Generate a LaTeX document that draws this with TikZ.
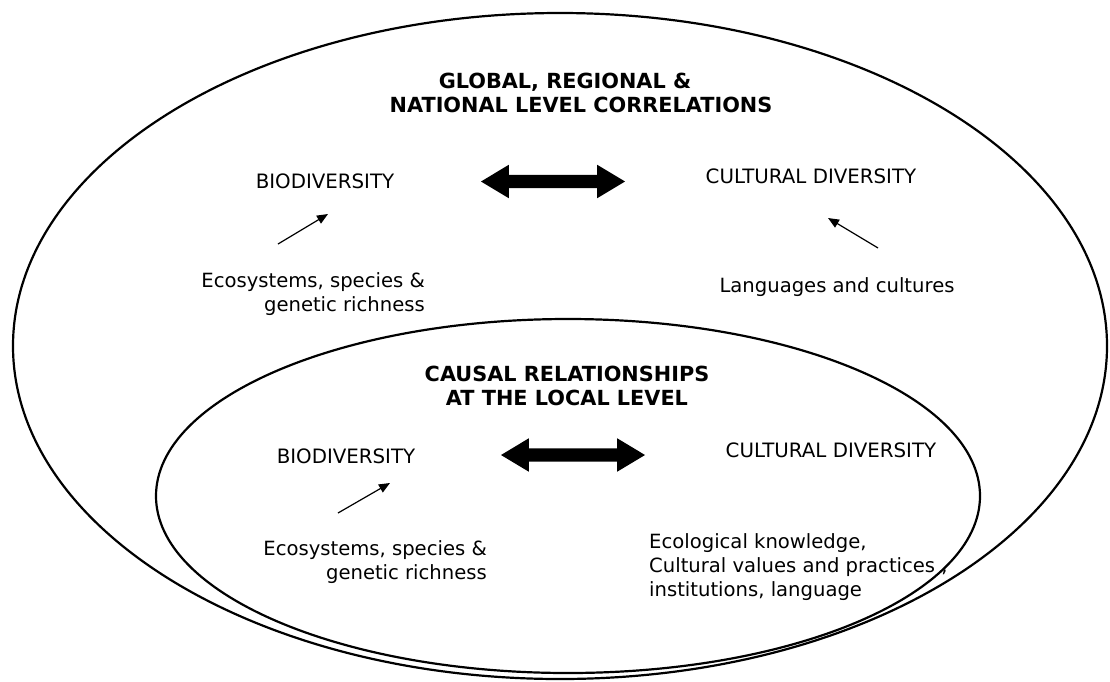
\documentclass[tikz,border=0pt]{standalone}
\usepackage{fontspec}
\setmainfont{DejaVu Sans}
\usetikzlibrary{shapes.arrows,arrows.meta}
\begin{document}
\begin{tikzpicture}[x=1pt,y=-1pt,
  ring/.style={line width=2.2pt},
  heading/.style={font=\fontsize{20.8}{24}\selectfont\bfseries, align=center, inner sep=0pt},
  term/.style={font=\fontsize{19.8}{24}\selectfont, inner sep=0pt},
  note/.style={font=\fontsize{19.6}{24}\selectfont, inner sep=0pt},
  link/.style={line width=1.2pt, -{Triangle[length=11pt,width=9pt]}},
  bigarrow/.style={double arrow, fill=black, draw=none, minimum height=144pt,
    inner xsep=0pt, inner ysep=6.5pt, double arrow head extend=10pt,
    double arrow tip angle=62}
]
\useasboundingbox (0,0) rectangle (1110,681);

% the two scales
\draw[ring] (560,346) ellipse [x radius=547, y radius=333];
\draw[ring] (568,496) ellipse [x radius=412, y radius=177];

% global, regional and national level
\node[heading, anchor=base] (gtitle1) at (565,88) {GLOBAL, REGIONAL \&};
\node[heading, anchor=base] (gtitle2) at (581,112) {NATIONAL LEVEL CORRELATIONS};
\node[term, anchor=base] (gbio) at (325,188) {BIODIVERSITY};
\node[term, anchor=base] (gcult) at (811,183) {CULTURAL DIVERSITY};
\node[bigarrow] (gboth) at (553,181.5) {};
\node[note, anchor=north east, align=right] (geco) at (425,272)
  {Ecosystems, species \&\\genetic richness};
\node[note, anchor=base] (glang) at (837,292) {Languages and cultures};
\coordinate (gbiotail) at (278,244);
\coordinate (gbiotip) at (328,214);
\coordinate (gculttail) at (878,248);
\coordinate (gculttip) at (828,218);
\draw[link] (gbiotail) -- (gbiotip);
\draw[link] (gculttail) -- (gculttip);

% local level
\node[heading, anchor=base] (ltitle1) at (567,381) {CAUSAL RELATIONSHIPS};
\node[heading, anchor=base] (ltitle2) at (567,405) {AT THE LOCAL LEVEL};
\node[term, anchor=base] (lbio) at (346,463) {BIODIVERSITY};
\node[term, anchor=base] (lcult) at (831,457) {CULTURAL DIVERSITY};
\node[bigarrow] (lboth) at (573,455) {};
\node[note, anchor=north east, align=right] (leco) at (487,540)
  {Ecosystems, species \&\\genetic richness};
\node[note, anchor=north west, align=left] (lknow) at (649,533)
  {Ecological knowledge,\\Cultural values and practices ,\\institutions, language};
\coordinate (lbiotail) at (338,513);
\coordinate (lbiotip) at (390,483);
\draw[link] (lbiotail) -- (lbiotip);
\end{tikzpicture}
\end{document}
